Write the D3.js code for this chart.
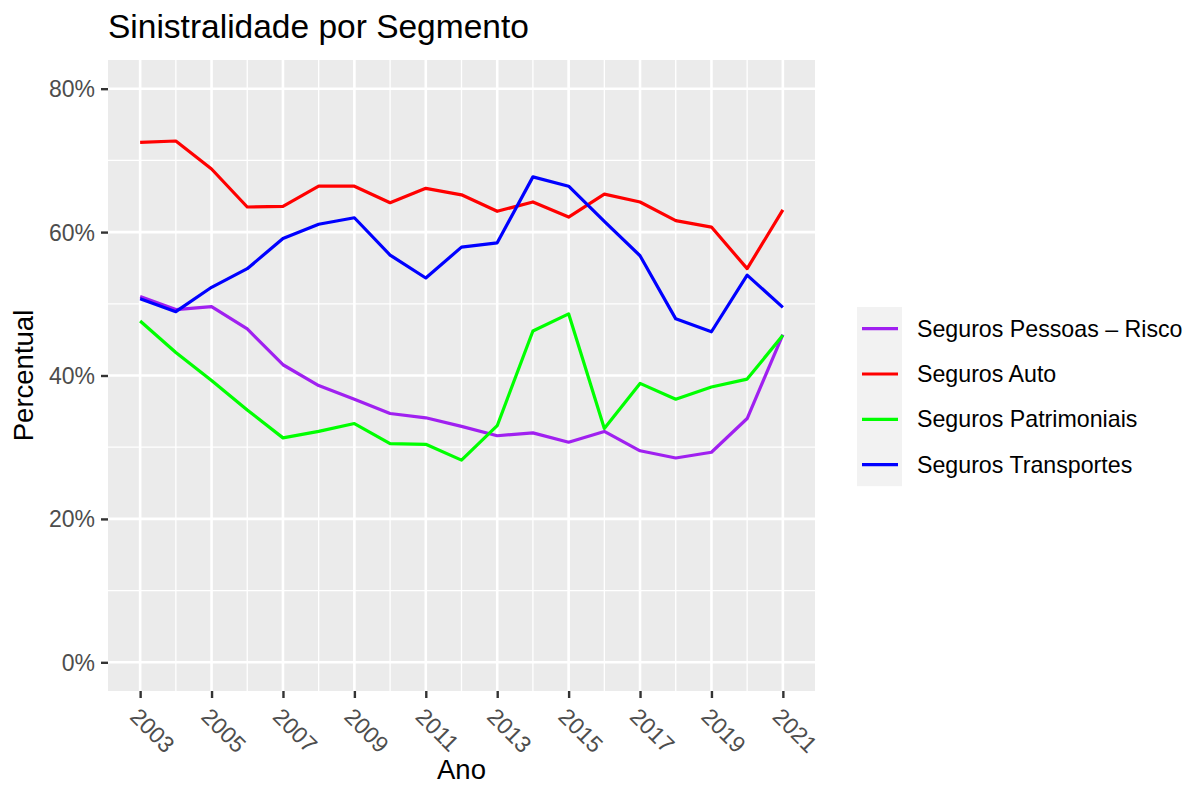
<!DOCTYPE html>
<html>
<head>
<meta charset="utf-8">
<script src="https://cdn.jsdelivr.net/npm/d3@7"></script>
<style>
  html, body { margin: 0; padding: 0; background: #ffffff; }
  svg { display: block; font-family: "Liberation Sans", Arial, Helvetica, sans-serif; }
</style>
</head>
<body>
<svg id="chart" width="1185" height="786"></svg>
<script>
// Loss ratio (%) per insurance segment, 2003–2021
const years = [2003, 2004, 2005, 2006, 2007, 2008, 2009, 2010, 2011, 2012,
               2013, 2014, 2015, 2016, 2017, 2018, 2019, 2020, 2021];
const pessoasRisco = [51.0, 49.2, 49.6, 46.5, 41.5, 38.6, 36.7, 34.7, 34.1, 32.9,
                      31.6, 32.0, 30.7, 32.2, 29.5, 28.5, 29.3, 34.0, 45.7];
const auto = [72.5, 72.7, 68.8, 63.5, 63.6, 66.4, 66.4, 64.1, 66.1, 65.2,
              62.9, 64.2, 62.1, 65.3, 64.2, 61.6, 60.7, 54.9, 63.1];
const patrimoniais = [47.6, 43.2, 39.3, 35.2, 31.3, 32.2, 33.3, 30.5, 30.4, 28.2,
                      33.0, 46.2, 48.6, 32.6, 38.9, 36.7, 38.4, 39.5, 45.6];
const transportes = [50.7, 48.9, 52.3, 54.9, 59.1, 61.1, 62.0, 56.8, 53.6, 57.9,
                     58.5, 67.7, 66.4, 61.5, 56.7, 47.9, 46.1, 54.0, 49.5];

const seriesNames = ["Seguros Pessoas \u2013 Risco", "Seguros Auto", "Seguros Patrimoniais", "Seguros Transportes"];
const seriesColors = ["#A020F0", "#FF0000", "#00FF00", "#0000FF"];
const seriesValues = [pessoasRisco, auto, patrimoniais, transportes];

const xTicks = [2003, 2005, 2007, 2009, 2011, 2013, 2015, 2017, 2019, 2021];
const xMinor = [2004, 2006, 2008, 2010, 2012, 2014, 2016, 2018, 2020];
const yTicks = [0, 20, 40, 60, 80];
const yMinor = [10, 30, 50, 70];

const title = "Sinistralidade por Segmento";
const xTitle = "Ano";
const yTitle = "Percentual";

// Panel geometry
const panel = { left: 108, right: 815, top: 60, bottom: 691 };

const svg = d3.select("#chart");

// Scales with ggplot-like 5% expansion
const xSpan = years[years.length - 1] - years[0];
const x = d3.scaleLinear()
  .domain([years[0] - 0.05 * xSpan, years[years.length - 1] + 0.05 * xSpan])
  .range([panel.left, panel.right]);
const y = d3.scaleLinear()
  .domain([-4, 84])
  .range([panel.bottom, panel.top]);

// Panel background
svg.append("rect")
  .attr("x", panel.left).attr("y", panel.top)
  .attr("width", panel.right - panel.left)
  .attr("height", panel.bottom - panel.top)
  .attr("fill", "#EBEBEB");

const grid = svg.append("g");
// minor grid
grid.selectAll("line.xminor").data(xMinor).join("line")
  .attr("x1", d => x(d)).attr("x2", d => x(d))
  .attr("y1", panel.top).attr("y2", panel.bottom)
  .attr("stroke", "#FFFFFF").attr("stroke-width", 1.3);
grid.selectAll("line.yminor").data(yMinor).join("line")
  .attr("y1", d => y(d)).attr("y2", d => y(d))
  .attr("x1", panel.left).attr("x2", panel.right)
  .attr("stroke", "#FFFFFF").attr("stroke-width", 1.3);
// major grid
grid.selectAll("line.xmajor").data(xTicks).join("line")
  .attr("x1", d => x(d)).attr("x2", d => x(d))
  .attr("y1", panel.top).attr("y2", panel.bottom)
  .attr("stroke", "#FFFFFF").attr("stroke-width", 2.6);
grid.selectAll("line.ymajor").data(yTicks).join("line")
  .attr("y1", d => y(d)).attr("y2", d => y(d))
  .attr("x1", panel.left).attr("x2", panel.right)
  .attr("stroke", "#FFFFFF").attr("stroke-width", 2.6);

// Lines
const line = d3.line()
  .x((d, i) => x(years[i]))
  .y(d => y(d));

svg.append("g").selectAll("path").data(seriesValues).join("path")
  .attr("d", d => line(d))
  .attr("fill", "none")
  .attr("stroke", (d, i) => seriesColors[i])
  .attr("stroke-width", 3.2)
  .attr("stroke-linejoin", "round");

// Y axis
const yAxis = svg.append("g")
  .attr("transform", `translate(${panel.left},0)`)
  .call(d3.axisLeft(y).tickValues(yTicks).tickFormat(d => d + "%").tickSize(7).tickPadding(6));
yAxis.select(".domain").remove();
yAxis.selectAll(".tick line").attr("stroke", "#333333").attr("stroke-width", 2.4);
yAxis.selectAll(".tick text")
  .attr("fill", "#4D4D4D")
  .attr("font-size", 23)
  .attr("dy", "0.35em");

// X axis
const xAxis = svg.append("g")
  .attr("transform", `translate(0,${panel.bottom})`)
  .call(d3.axisBottom(x).tickValues(xTicks).tickFormat(d3.format("d")).tickSize(7));
xAxis.select(".domain").remove();
xAxis.selectAll(".tick line").attr("stroke", "#333333").attr("stroke-width", 2.4);
xAxis.selectAll(".tick text")
  .attr("fill", "#4D4D4D")
  .attr("font-size", 23)
  .attr("x", 0).attr("y", 0).attr("dy", 0)
  .attr("text-anchor", "start")
  .attr("transform", "translate(-12,27) rotate(45)");

// Title and axis titles
svg.append("text")
  .attr("x", panel.left).attr("y", 38)
  .attr("font-size", 33.5)
  .attr("fill", "#000000")
  .text(title);

svg.append("text")
  .attr("x", (panel.left + panel.right) / 2).attr("y", 779)
  .attr("text-anchor", "middle")
  .attr("font-size", 27.5)
  .attr("fill", "#000000")
  .text(xTitle);

svg.append("text")
  .attr("transform", `translate(33,${(panel.top + panel.bottom) / 2}) rotate(-90)`)
  .attr("text-anchor", "middle")
  .attr("font-size", 27.5)
  .attr("fill", "#000000")
  .text(yTitle);

// Legend
const legend = svg.append("g").attr("transform", "translate(857,307)");
const rowH = 45.3;
legend.append("rect")
  .attr("x", 0).attr("y", 0)
  .attr("width", 45).attr("height", rowH * seriesNames.length - 2)
  .attr("fill", "#F2F2F2");
const rows = legend.selectAll("g.row").data(seriesNames).join("g")
  .attr("transform", (d, i) => `translate(0,${21.7 + i * rowH})`);
rows.append("line")
  .attr("x1", 5).attr("x2", 41)
  .attr("y1", 0).attr("y2", 0)
  .attr("stroke", (d, i) => seriesColors[i])
  .attr("stroke-width", 3.2);
rows.append("text")
  .attr("x", 60).attr("y", 0).attr("dy", "0.35em")
  .attr("font-size", 23.2)
  .attr("fill", "#000000")
  .text(d => d);
</script>
</body>
</html>
